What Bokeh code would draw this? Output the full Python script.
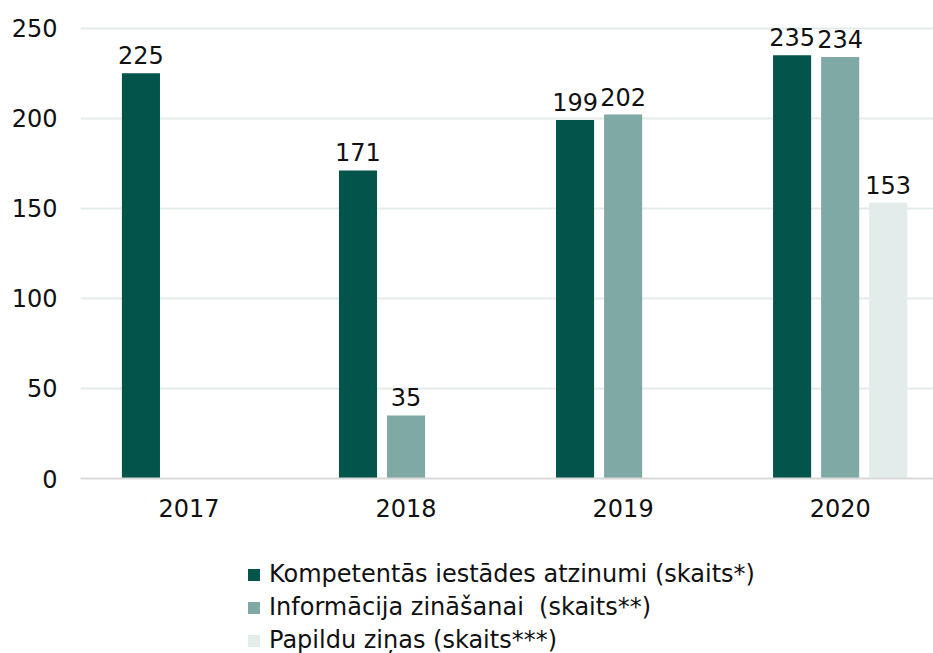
from bokeh.plotting import figure
from bokeh.layouts import column
from bokeh.models import (Range1d, FixedTicker, Legend, LegendItem, ColumnDataSource,
                          LabelSet, NumeralTickFormatter)
from bokeh.core.properties import value
from bokeh.transform import dodge
from bokeh.embed import file_html
from bokeh.resources import INLINE

# ---- data ----
years = [2017, 2018, 2019, 2020]
atzinumi = [225, 171, 199, 235]
informacija = [None, 35, 202, 234]
papildu = [None, None, None, 153]
series_names = [
    "Kompetentās iestādes atzinumi (skaits*)",
    "Informācija zināšanai  (skaits**)",
    "Papildu ziņas (skaits***)",
]
y_ticks = [0, 50, 100, 150, 200, 250]

colors = ["#03544b", "#7fa9a4", "#e2eceb"]
FONT = "DejaVu Sans"
FS = "24px"
TXT = "#111111"

p = figure(frame_width=853, frame_height=454,
           x_range=Range1d(2016.5, 2020.43), y_range=Range1d(0, 252),
           output_backend="svg", toolbar_location=None,
           min_border_left=80, min_border_right=0, min_border_top=24, min_border_bottom=60)
p.outline_line_color = None
p.background_fill_color = "white"
p.border_fill_color = "white"

bar_w = 0.1754
step = 0.2215
offsets = [-step, 0.0, step]
all_series = [atzinumi, informacija, papildu]

sources = []
for vals, off, col in zip(all_series, offsets, colors):
    src = ColumnDataSource(dict(x=years, top=[float("nan") if v is None else v for v in vals]))
    sources.append(src)
    p.vbar(x=dodge("x", off, range=p.x_range), top="top", width=bar_w, source=src,
           fill_color=col, line_color=None)
    lx = [y + off for y, v in zip(years, vals) if v is not None]
    ly = [v for v in vals if v is not None]
    lsrc = ColumnDataSource(dict(x=lx, y=ly, t=[str(v) for v in ly]))
    p.add_layout(LabelSet(x="x", y="y", text="t", source=lsrc, text_align="center",
                          text_baseline="bottom", y_offset=9, text_font=value(FONT),
                          text_font_size=value(FS), text_color=TXT))

# axes
p.xaxis.ticker = FixedTicker(ticks=years)
p.xaxis.formatter = NumeralTickFormatter(format="0")
p.xaxis.major_tick_line_color = None
p.xaxis.minor_tick_line_color = None
p.xaxis.major_tick_out = 0
p.xaxis.axis_line_color = "#d9d9d9"
p.xaxis.axis_line_width = 2
p.xaxis.major_label_standoff = 20
p.xaxis.major_label_text_font = FONT
p.xaxis.major_label_text_font_size = FS
p.xaxis.major_label_text_color = TXT

p.yaxis.ticker = FixedTicker(ticks=y_ticks)
p.yaxis.axis_line_color = None
p.yaxis.major_tick_line_color = None
p.yaxis.minor_tick_line_color = None
p.yaxis.major_tick_out = 0
p.yaxis.major_label_standoff = 23
p.yaxis.major_label_text_font = FONT
p.yaxis.major_label_text_font_size = FS
p.yaxis.major_label_text_color = TXT

p.xgrid.grid_line_color = None
p.ygrid.ticker = FixedTicker(ticks=y_ticks)
p.ygrid.grid_line_color = "#e3ebea"
p.ygrid.grid_line_width = 2

# ---- legend strip below the chart (its own renderers lie outside its view) ----
lg = figure(width=933, height=115, output_backend="svg", toolbar_location=None,
            x_range=Range1d(0, 1), y_range=Range1d(0, 1),
            x_axis_type=None, y_axis_type=None,
            min_border_left=0, min_border_right=0, min_border_top=0, min_border_bottom=0)
lg.outline_line_color = None
lg.xgrid.grid_line_color = None
lg.ygrid.grid_line_color = None
lg_renderers = [lg.vbar(x="x", top="top", width=bar_w, source=s, fill_color=c, line_color=None)
                for s, c in zip(sources, colors)]

legend = Legend(items=[LegendItem(label=n, renderers=[r]) for n, r in zip(series_names, lg_renderers)],
                location=(166, -1), orientation="vertical",
                margin=0, padding=0, spacing=5, label_height=26,
                glyph_width=15, glyph_height=15, label_standoff=8,
                label_text_font=FONT, label_text_font_size=FS, label_text_color=TXT,
                border_line_color=None, background_fill_alpha=0)
lg.add_layout(legend)

layout = column(p, lg, spacing=0)
open("out.html", "w").write(file_html(layout, INLINE))
